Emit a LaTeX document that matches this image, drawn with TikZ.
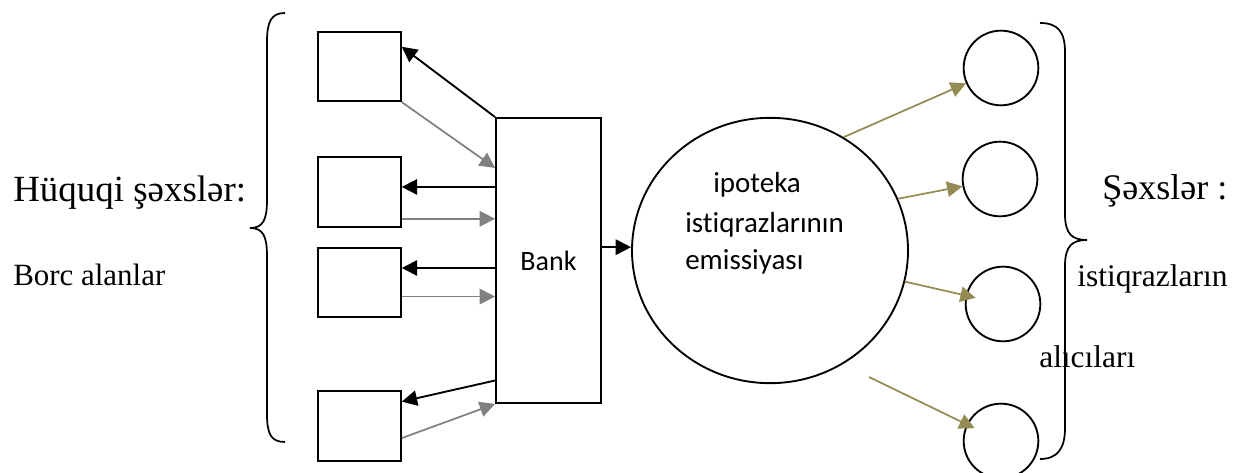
\documentclass[tikz,border=0pt]{standalone}
\usepackage{fontspec}
\setmainfont{Liberation Serif}
\newfontfamily\carlito[Ligatures=NoCommon]{Carlito}
\usetikzlibrary{arrows.meta,shapes.geometric}
\definecolor{oliveline}{RGB}{148,138,84}
\definecolor{grayline}{RGB}{128,128,128}
\tikzset{
  box/.style={draw, line width=1.4pt, minimum width=62pt, minimum height=52pt, inner sep=0pt},
  buyer/.style={draw, circle, line width=1.4pt, minimum size=56pt, inner sep=0pt},
  blk/.style={line width=1.4pt, -{Triangle[length=11.5pt,width=11.5pt]}},
  gry/.style={line width=1.3pt, grayline, -{Triangle[length=11.5pt,width=11.5pt]}},
  olv/.style={line width=1.3pt, oliveline, -{Triangle[length=11.5pt,width=11.5pt]}},
  lbl/.style={anchor=base west, inner sep=0pt},
}
\begin{document}
\begin{tikzpicture}[x=0.75pt, y=-0.75pt]
\useasboundingbox (0,0) rectangle (1235,473);

% borc alanlar
\node[lbl, font=\fontsize{27.7}{30}\selectfont] (hq) at (13,202) {Hüquqi şəxslər:};
\node[lbl, font=\fontsize{23.2}{26}\selectfont] (borc) at (13,286) {Borc alanlar};
\draw[line width=1.3pt] (285,13) .. controls (271,13) and (267,22) .. (267,42) -- (267,200)
  .. controls (267,220) and (263,228) .. (250,228)
  .. controls (263,228) and (267,236) .. (267,256) -- (267,414)
  .. controls (267,434) and (271,442) .. (285,442);

\node[box] (sq1) at (359.5,66.5) {};
\node[box] (sq2) at (359.5,192) {};
\node[box] (sq3) at (359.5,282.5) {};
\node[box] (sq4) at (359.5,426) {};

% bank
\node[draw, line width=1.4pt, minimum width=78.75pt, minimum height=213.75pt, inner sep=0pt,
  font=\carlito\fontsize{21}{25}\selectfont] (bank) at (548.5,260.5) {Bank};

\draw[blk] (bank.north west) -- (sq1.25);
\draw[gry] (sq1.south east) -- (bank.120);
\draw[blk] (bank.126) -- (sq2.east |- bank.126);
\draw[gry] (sq2.east |- bank.142) -- (bank.142);
\draw[blk] (bank.188) -- (sq3.east |- bank.188);
\draw[gry] (sq3.east |- bank.214) -- (bank.214);
\draw[blk] (bank.246) -- (sq4.30);
\draw[gry] (sq4.-16) -- (bank.south west);

% emissiya
\node[draw, ellipse, line width=1.4pt, minimum width=207pt, minimum height=199pt, inner sep=0pt] (emis) at (770,250.5) {};
\node[lbl, font=\carlito\fontsize{21.75}{26}\selectfont] (ip) at (713,193) {ipoteka};
\node[lbl, font=\carlito\fontsize{21.75}{26}\selectfont] (istq) at (685,233) {istiqrazlarının};
\node[lbl, font=\carlito\fontsize{21.75}{26}\selectfont] (emi) at (685,270) {emissiyası};
\draw[blk] (bank.14) -- (bank.14 -| emis.west);

% alicilar
\node[buyer] (c1) at (1001,68) {};
\node[buyer] (c2) at (1000,179) {};
\node[buyer] (c3) at (1003,304) {};
\node[buyer] (c4) at (1001,441) {};
\coordinate (o4) at (869,377);
\draw[olv] (emis.57) -- (c1);
\draw[olv] (emis.22) -- (c2);
\draw[olv, shorten >=21pt] (emis.-13) -- (c3.center);
\draw[olv, shorten >=22pt] (o4) -- (c4.center);

\draw[line width=1.3pt] (1040,23) .. controls (1058,23) and (1065,32) .. (1065,52) -- (1065,214)
  .. controls (1065,234) and (1072,240) .. (1087,240)
  .. controls (1072,240) and (1065,246) .. (1065,266) -- (1065,428)
  .. controls (1065,448) and (1058,459) .. (1040,459);
\node[lbl, font=\fontsize{27}{30}\selectfont] (sx) at (1102,200) {Şəxslər :};
\node[lbl, font=\fontsize{23.6}{26}\selectfont] (istr) at (1077,287) {istiqrazların};
\node[lbl, font=\fontsize{23.6}{26}\selectfont] (alc) at (1039,368) {alıcıları};
\end{tikzpicture}
\end{document}
